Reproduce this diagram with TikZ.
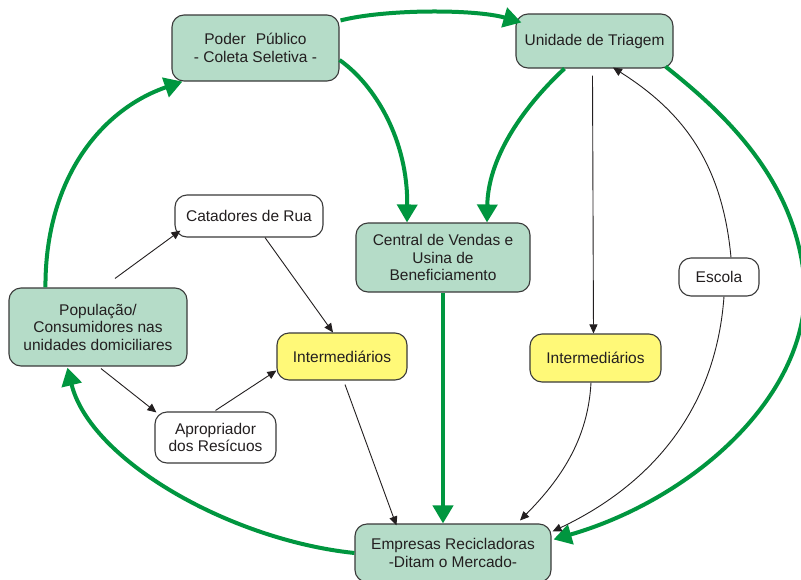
\documentclass[tikz,border=0pt]{standalone}
\usepackage{fontspec}
\setmainfont{Liberation Sans}
\usetikzlibrary{arrows.meta}
\definecolor{boxgreen}{HTML}{B5DCC8}
\definecolor{boxyellow}{HTML}{FFF978}
\definecolor{arrgreen}{HTML}{00963F}
\definecolor{bordergray}{HTML}{3A3A3A}
\definecolor{txt}{HTML}{231F20}
\tikzset{
  box/.style={draw=bordergray, line width=1.1pt, rounded corners=12pt, inner sep=0pt,
    align=center, text=txt, font=\fontsize{15.5}{17.5}\selectfont},
  gbox/.style={box, fill=boxgreen},
  ybox/.style={box, fill=boxyellow},
  wbox/.style={box, fill=white},
  bigflow/.style={draw=arrgreen, line width=4pt, -{Triangle[length=18pt,width=20pt]}},
  thinflow/.style={draw=txt, line width=0.9pt, -{Triangle[length=9pt,width=8pt]}}
}
\begin{document}
\begin{tikzpicture}[x=1pt,y=-1pt]
\clip (0,0) rectangle (801,579);
\path[use as bounding box] (0,0) rectangle (801,579);
\fill[white] (0,0) rectangle (801,579);

\node[gbox, minimum width=167pt, minimum height=66pt] (poder) at (255.5,48) {Poder\hspace{10pt}Público\\- Coleta Seletiva -};
\node[gbox, minimum width=157pt, minimum height=54pt] (unidade) at (594.5,41) {Unidade de Triagem};
\node[wbox, minimum width=148pt, minimum height=42pt] (catadores) at (249,216) {Catadores de Rua};
\node[gbox, minimum width=174pt, minimum height=69pt] (central) at (443,257.5) {Central de Vendas e\\Usina de\\Beneficiamento};
\node[wbox, minimum width=80pt, minimum height=38pt] (escola) at (719,277) {Escola};
\node[gbox, minimum width=178pt, minimum height=78pt] (pop) at (98,327) {População/\\Consumidores nas\\unidades domiciliares};
\node[ybox, minimum width=130pt, minimum height=47pt] (intl) at (342,356.5) {Intermediários};
\node[ybox, minimum width=131pt, minimum height=48pt] (intr) at (595.5,358) {Intermediários};
\node[wbox, minimum width=121pt, minimum height=51pt] (apro) at (215.5,437.5) {Apropriador\\dos Resícuos};
\node[gbox, minimum width=196pt, minimum height=58pt] (empresas) at (453,553) {Empresas Recicladoras\\-Ditam o Mercado-};

% green flows
\draw[bigflow] ([xshift=1pt,yshift=-6pt]poder.north east) .. controls (385,9) and (475,9) .. ([xshift=6pt,yshift=-9pt]unidade.north west);
\draw[bigflow] ([yshift=-12pt]poder.east) .. controls (375,85) and (408,140) .. ([xshift=-36pt]central.north);
\draw[bigflow] ([xshift=-30pt]unidade.south) .. controls (520,110) and (488,160) .. ([xshift=44pt]central.north);
\draw[bigflow] ([xshift=-8pt,yshift=2pt]unidade.south east) .. controls (720,110) and (800,180) .. (805,290) .. controls (805,400) and (690,500) .. ([xshift=2pt,yshift=-16pt]empresas.north east);
\draw[bigflow] (central.south) -- (central.south |- empresas.north);
\draw[bigflow] ([xshift=37pt]pop.north west) .. controls (45,180) and (100,110) .. ([xshift=11pt]poder.south west);
\draw[bigflow] (empresas.west) .. controls (230,540) and (90,460) .. ([xshift=59pt,yshift=-1pt]pop.south west);

% thin flows
\draw[thinflow] ([xshift=17pt,yshift=9pt]pop.north) -- ([xshift=6pt,yshift=7pt]catadores.south west);
\draw[thinflow] ([xshift=3pt,yshift=-2pt]pop.south) -- ([xshift=2pt,yshift=-1pt]apro.north west);
\draw[thinflow] ([yshift=1pt]apro.north) -- ([yshift=-14pt]intl.west);
\draw[thinflow] ([xshift=16pt]catadores.south) -- ([xshift=-9pt]intl.north);
\draw[thinflow] ([xshift=3pt,yshift=-4pt]intl.south) -- ([xshift=42pt,yshift=-2pt]empresas.north west);
\draw[thinflow] ([xshift=-2pt,yshift=-7pt]unidade.south) -- ([xshift=-2pt]intr.north);
\draw[thinflow] ([xshift=12pt]escola.north) .. controls (722,160) and (680,110) .. ([xshift=18.5pt,yshift=1pt]unidade.south);
\draw[thinflow] ([xshift=5pt]escola.south) .. controls (715,420) and (640,490) .. ([xshift=1pt,yshift=-8pt]empresas.north east);
\draw[thinflow] ([xshift=-4.5pt]intr.south) .. controls (588,440) and (560,480) .. ([xshift=67pt,yshift=3pt]empresas.north);
\end{tikzpicture}
\end{document}
